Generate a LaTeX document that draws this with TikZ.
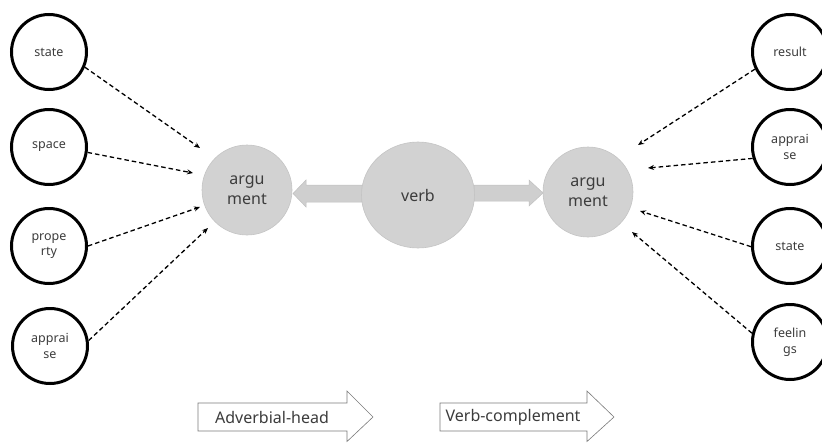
\documentclass[tikz,border=0pt]{standalone}
\usepackage{fontspec}
\setmainfont{Noto Sans}
\usetikzlibrary{arrows.meta,shapes.geometric}
\definecolor{txt}{HTML}{3C3C3C}
\definecolor{argfill}{HTML}{D2D2D2}
\definecolor{argedge}{HTML}{C4C4C4}
\definecolor{fatfill}{HTML}{CFCFCF}
\definecolor{fatedge}{HTML}{C0C0C0}
\definecolor{boxedge}{HTML}{7A7A7A}
\tikzset{
  small/.style={circle, draw=black, line width=3pt, minimum size=75pt, inner sep=0pt,
    align=center, font=\fontsize{12.5}{15.5}\selectfont, text=txt},
  arg/.style={circle, fill=argfill, draw=argedge, line width=0.6pt, minimum size=90pt, inner sep=0pt,
    align=center, font=\fontsize{16}{20}\selectfont, text=txt},
  verbc/.style={ellipse, fill=argfill, draw=argedge, line width=0.6pt, minimum width=113pt, minimum height=106pt, inner sep=0pt,
    font=\fontsize{16}{20}\selectfont, text=txt},
  dasharrow/.style={dash pattern=on 4.5pt off 3pt, line width=1.3pt, -{Stealth[length=6pt,width=5pt]}},
  fat/.style={fill=fatfill, draw=fatedge, line width=0.5pt},
  lab/.style={font=\fontsize{16}{20}\selectfont, text=txt, inner sep=0pt},
  labarrow/.style={draw=boxedge, line width=0.6pt, fill=white}
}
\begin{document}
\begin{tikzpicture}[x=1pt,y=-1pt]
\useasboundingbox (0,0) rectangle (822,442);

% fat arrows
\path[fat] (362,185) -- (306,185) -- (306,180) -- (293,193.5) -- (306,207) -- (306,202) -- (362,202) -- cycle;
\path[fat] (474,185) -- (529,185) -- (529,180) -- (543,193) -- (529,206) -- (529,201) -- (474,201) -- cycle;

% main nodes
\node[arg] (argL) at (247,190) {argu\\ment};
\node[verbc] (verb) at (418,195) {verb};
\node[arg] (argR) at (588,192) {argu\\ment};

% left small circles
\node[small] (l1) at (49,52) {state};
\node[small] (l2) at (49,147) {space};
\node[small] (l3) at (49,246) {prope\\rty};
\node[small] (l4) at (50,346) {apprai\\se};

% right small circles
\node[small] (r1) at (790,52) {result};
\node[small] (r2) at (790,147) {apprai\\se};
\node[small] (r3) at (790,246) {state};
\node[small] (r4) at (790,342) {feelin\\gs};

% arrow tip coordinates
\coordinate (tl1) at (200,148);
\coordinate (tl2) at (193,173);
\coordinate (tl3) at (200,207);
\coordinate (tl4) at (208,228);
\coordinate (tr1) at (638,145);
\coordinate (tr2) at (648,168);
\coordinate (tr3) at (640,211);
\coordinate (tr4) at (632,232);

\draw[dasharrow] (l1.-23) -- (tl1);
\draw[dasharrow] (l2.-8) -- (tl2);
\draw[dasharrow] (l3.0) -- (tl3);
\draw[dasharrow] (l4.8) -- (tl4);
\draw[dasharrow] (r1.206) -- (tr1);
\draw[dasharrow] (r2.197) -- (tr2);
\draw[dasharrow] (r3.181) -- (tr3);
\draw[dasharrow] (r4.167) -- (tr4);

% bottom label arrows
\path[labarrow] (198,403) -- (347,403) -- (347,391) -- (373,417) -- (347,441.5) -- (347,431) -- (198,431) -- cycle;
\node[lab] (adv) at (272,417) {Adverbial-head};
\path[labarrow] (440,403) -- (587,403) -- (587,391) -- (614,417) -- (587,441.5) -- (587,431) -- (440,431) -- cycle;
\node[lab] (vc) at (513,417) {Verb-complement};
\end{tikzpicture}
\end{document}
